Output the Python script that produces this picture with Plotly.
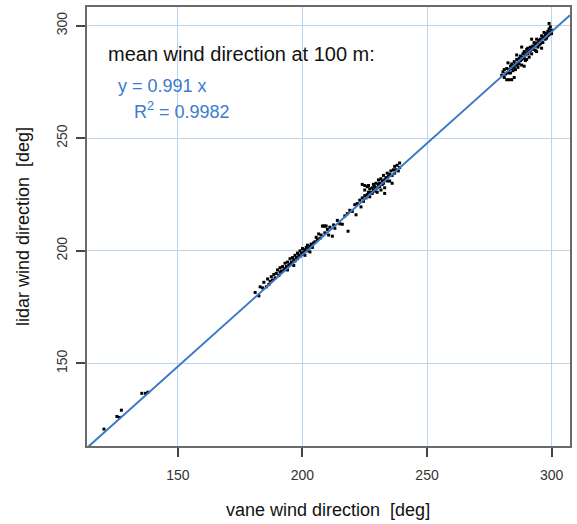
import plotly.graph_objects as go

# ---- data ----
vane = [
    120.3, 125.5, 126.5, 127.3, 135.5, 137.0, 138.0,
    181.0, 182.5, 183.0, 184.0, 184.5, 185.5, 186.0, 186.5, 187.0, 187.5, 188.0, 188.5, 189.0, 189.5,
    190.0, 190.5, 191.0, 191.0, 191.5, 192.0, 192.5, 193.0, 193.0, 193.5, 194.0, 194.5, 195.0, 195.0,
    195.5, 196.0, 196.0, 196.5, 197.0, 197.0, 197.5, 198.0, 198.0, 198.5, 199.0, 199.0, 199.5, 200.0,
    200.0, 200.5, 201.0, 201.0, 201.5, 202.0, 202.0, 202.5, 203.0, 203.0, 203.5, 204.0, 204.5, 196.5, 194.0,
    205.0, 205.5, 206.0, 206.5, 207.0, 207.5, 208.0, 208.5, 209.0, 209.5, 209.0, 210.0, 210.5, 211.0,
    212.0, 212.5, 213.0, 214.0, 215.0, 216.0, 217.0, 218.0, 218.3, 219.0, 220.0, 221.0, 221.5,
    222.0, 223.0, 223.5, 224.0, 224.5, 225.0, 225.0, 225.5, 226.0, 226.0, 226.5, 227.0, 227.0, 227.5,
    228.0, 228.0, 228.5, 228.5, 229.0, 229.0, 229.5, 229.5, 230.0, 230.0, 230.5, 230.5, 231.0, 231.0,
    231.5, 231.5, 232.0, 232.0, 232.5, 232.5, 233.0, 233.0, 233.5, 234.0, 234.0, 234.5, 235.0, 235.0,
    235.5, 236.0, 236.5, 237.0, 237.0, 237.5, 238.0, 238.5, 239.0, 239.0, 226.5, 225.0, 224.0, 233.0, 236.0,
    280.0, 280.5, 281.0, 281.0, 281.5, 282.0, 282.0, 282.5, 283.0, 283.0, 283.5, 283.5, 284.0, 284.0,
    284.5, 284.5, 285.0, 285.0, 285.5, 285.5, 286.0, 286.0, 286.5, 286.5, 287.0, 287.0, 287.5, 287.5,
    288.0, 288.0, 288.5, 288.5, 289.0, 289.0, 289.5, 289.5, 290.0, 290.0, 290.5, 290.5, 291.0, 291.0,
    291.5, 291.5, 292.0, 292.0, 292.5, 292.5, 293.0, 293.0, 293.5, 293.5, 294.0, 294.0, 294.5, 294.5,
    295.0, 295.0, 295.5, 295.5, 296.0, 296.0, 296.5, 296.5, 297.0, 297.0, 297.5, 297.5, 298.0, 298.0,
    298.5, 298.5, 299.0, 299.0, 299.5, 299.5, 300.0, 300.0, 284.0, 285.0, 282.5, 286.0, 288.0, 290.0,
    292.0, 294.0, 296.0, 299.0, 289.0,
]
lidar = [
    120.8, 126.4, 126.0, 129.2, 136.7, 136.7, 137.2,
    181.5, 180.0, 184.0, 183.5, 186.0, 184.0, 187.5, 185.0, 186.5, 188.5, 187.0, 189.5, 188.0, 190.0,
    191.5, 189.0, 190.5, 192.5, 191.0, 193.0, 191.5, 192.0, 194.5, 193.0, 195.0, 193.5, 194.0, 196.5,
    195.0, 197.0, 194.5, 196.0, 198.0, 195.5, 197.0, 199.0, 196.5, 198.0, 197.5, 200.0, 199.0, 198.5,
    201.0, 199.5, 200.5, 198.0, 201.5, 200.0, 202.5, 201.0, 199.5, 202.0, 203.0, 201.5, 203.5, 193.5, 191.5,
    204.0, 206.0, 205.0, 207.5, 205.5, 207.0, 211.0, 211.0, 211.0, 211.0, 208.0, 209.5, 207.0, 210.5,
    206.5, 211.5, 210.0, 213.5, 212.0, 211.8, 215.5, 216.5, 208.7, 218.0, 217.5, 220.5, 216.0,
    221.0, 222.5, 219.5, 223.5, 222.0, 224.5, 227.0, 223.5, 225.0, 228.5, 226.0, 227.5, 224.0, 226.0,
    228.0, 225.5, 227.0, 229.5, 226.5, 228.5, 227.5, 230.0, 228.0, 226.0, 229.5, 231.5, 228.5, 230.0,
    227.0, 232.0, 229.5, 231.0, 230.0, 233.5, 231.5, 228.0, 232.5, 231.0, 234.5, 233.0, 234.0, 231.0,
    235.5, 233.5, 236.0, 234.5, 237.5, 236.0, 238.0, 235.5, 237.0, 239.0, 229.0, 229.0, 229.5, 225.5, 230.0,
    278.0, 279.5, 277.0, 280.5, 278.5, 276.0, 281.0, 279.0, 280.5, 276.0, 282.0, 279.0, 281.0, 283.0,
    280.0, 282.5, 281.5, 284.0, 283.0, 280.5, 282.5, 285.0, 283.5, 281.5, 285.5, 283.0, 284.5, 286.5,
    285.0, 282.5, 286.0, 287.5, 285.5, 288.5, 287.0, 284.5, 288.0, 289.5, 287.5, 290.0, 288.5, 286.0,
    290.5, 289.0, 290.0, 287.5, 291.0, 289.5, 290.5, 292.5, 291.5, 289.0, 292.0, 294.0, 292.5, 290.5,
    293.5, 291.5, 294.0, 292.0, 293.0, 295.5, 294.5, 292.5, 295.0, 297.0, 294.0, 296.0, 296.5, 294.5,
    297.5, 295.5, 296.0, 298.5, 297.0, 299.5, 298.0, 296.5, 276.0, 277.0, 283.5, 287.0, 290.5, 285.0,
    294.0, 288.5, 290.0, 301.0, 282.0,
]
slope = 0.991
r2 = 0.9982
x_range = [113.5, 307.4]
y_range = [113.3, 308.3]
tick_vals = [150, 200, 250, 300]

FONT = "Arial, Liberation Sans, sans-serif"
BLUE = "#3a7bd0"

fig = go.Figure()
fig.add_trace(go.Scatter(
    x=vane, y=lidar, mode="markers",
    marker=dict(size=3, color="black", symbol="square"),
    showlegend=False, hoverinfo="skip",
))
fig.add_trace(go.Scatter(
    x=x_range, y=[slope * v for v in x_range], mode="lines",
    line=dict(color="#3a78c8", width=2),
    showlegend=False, hoverinfo="skip",
))

axis_common = dict(
    showline=True, mirror=True, linecolor="#6a6a6a", linewidth=2,
    ticks="outside", ticklen=9, tickwidth=1.5, tickcolor="#444444",
    tickvals=tick_vals, showgrid=True, gridcolor="#b9d5f0", gridwidth=1,
    zeroline=False, tickfont=dict(family=FONT, size=14, color="#333333"),
)

fig.update_xaxes(range=x_range, ticklabelstandoff=6, **axis_common)
fig.update_yaxes(range=y_range, tickangle=-90, ticklabelstandoff=3, **axis_common)

W, H = 577, 524
l, r, t, b = 87, 7, 7, 78
pw, ph = W - l - r, H - t - b

fig.update_layout(
    width=W, height=H,
    margin=dict(l=l, r=r, t=t, b=b, autoexpand=False),
    plot_bgcolor="white", paper_bgcolor="white",
)


def px_x(px):
    return (px - l) / pw


def px_y(py):
    return (H - b - py) / ph


fig.add_annotation(text="vane wind direction  [deg]", x=px_x(328), y=px_y(510), xref="paper", yref="paper",
                   showarrow=False, font=dict(family=FONT, size=18, color="#111111"),
                   xanchor="center", yanchor="middle")
fig.add_annotation(text="lidar wind direction  [deg]", x=px_x(23), y=px_y(227), xref="paper", yref="paper",
                   showarrow=False, textangle=-90, font=dict(family=FONT, size=18, color="#111111"),
                   xanchor="center", yanchor="middle")
fig.add_annotation(text="mean wind direction at 100 m:", x=px_x(106), y=px_y(54), xref="paper", yref="paper",
                   showarrow=False, font=dict(family=FONT, size=20, color="#111111"),
                   xanchor="left", yanchor="middle")
fig.add_annotation(text=f"y = {slope} x", x=px_x(116), y=px_y(86), xref="paper", yref="paper",
                   showarrow=False, font=dict(family=FONT, size=18, color=BLUE),
                   xanchor="left", yanchor="middle")
fig.add_annotation(text=f"R<sup>2</sup> = {r2}", x=px_x(132), y=px_y(110), xref="paper", yref="paper",
                   showarrow=False, font=dict(family=FONT, size=18, color=BLUE),
                   xanchor="left", yanchor="middle")

fig.write_html(
    "out.html",
    config={"displayModeBar": False},
    post_script="document.body.style.margin='0';document.body.style.overflow='hidden';",
)
